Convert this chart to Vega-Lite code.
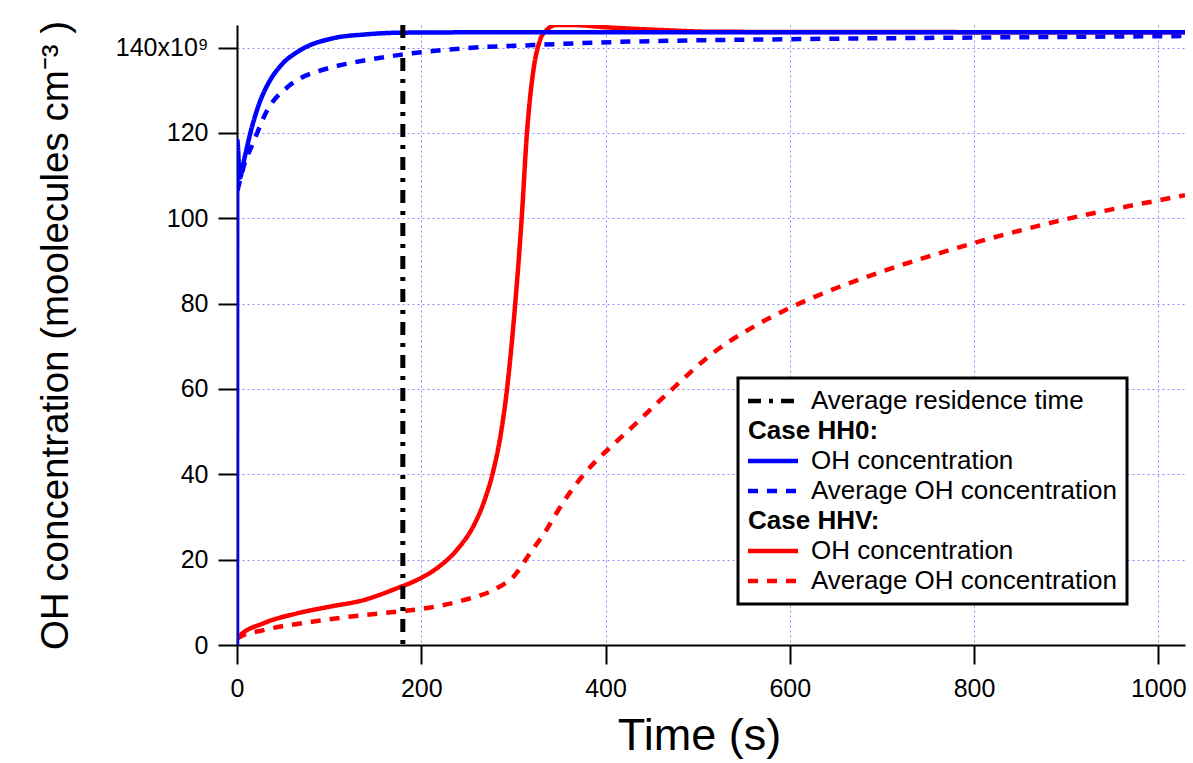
{
  "$schema": "https://vega.github.io/schema/vega-lite/v6.json",
  "width": 948,
  "height": 620,
  "autosize": {"type": "none"},
  "padding": {"left": 237, "top": 25, "right": 8, "bottom": 118},
  "background": "white",
  "config": {
    "view": {"stroke": null},
    "font": "Liberation Sans",
    "axis": {
      "domainColor": "black", "domainWidth": 2,
      "tickColor": "black", "tickWidth": 2, "tickSize": 19,
      "labelColor": "black", "labelFont": "Liberation Sans", "labelFontSize": 25,
      "titleColor": "black", "titleFont": "Liberation Sans", "titleFontWeight": "normal",
      "gridColor": "#8888ff", "gridDash": [2, 3], "gridWidth": 1, "gridOpacity": 1
    }
  },
  "datasets": {
    "curves": [
      {"s": "HH0 OH concentration", "t": 0, "v": 0},
      {"s": "HH0 OH concentration", "t": 0.3, "v": 118.3},
      {"s": "HH0 OH concentration", "t": 3, "v": 109.5},
      {"s": "HH0 OH concentration", "t": 8, "v": 114},
      {"s": "HH0 OH concentration", "t": 14.4, "v": 119.9},
      {"s": "HH0 OH concentration", "t": 25, "v": 127.4},
      {"s": "HH0 OH concentration", "t": 35, "v": 132.0},
      {"s": "HH0 OH concentration", "t": 48, "v": 135.9},
      {"s": "HH0 OH concentration", "t": 68.7, "v": 139.4},
      {"s": "HH0 OH concentration", "t": 104.5, "v": 142.2},
      {"s": "HH0 OH concentration", "t": 140, "v": 143.1},
      {"s": "HH0 OH concentration", "t": 177, "v": 143.5},
      {"s": "HH0 OH concentration", "t": 300, "v": 143.6},
      {"s": "HH0 OH concentration", "t": 600, "v": 143.6},
      {"s": "HH0 OH concentration", "t": 1029, "v": 143.6},

      {"s": "HH0 Average OH concentration", "t": 0.5, "v": 106.5},
      {"s": "HH0 Average OH concentration", "t": 4, "v": 109.5},
      {"s": "HH0 Average OH concentration", "t": 7.2, "v": 112.1},
      {"s": "HH0 Average OH concentration", "t": 18, "v": 117.9},
      {"s": "HH0 Average OH concentration", "t": 32.5, "v": 125.2},
      {"s": "HH0 Average OH concentration", "t": 54, "v": 130.6},
      {"s": "HH0 Average OH concentration", "t": 68.7, "v": 132.8},
      {"s": "HH0 Average OH concentration", "t": 87, "v": 134.4},
      {"s": "HH0 Average OH concentration", "t": 105, "v": 135.5},
      {"s": "HH0 Average OH concentration", "t": 141, "v": 137.1},
      {"s": "HH0 Average OH concentration", "t": 177, "v": 138.3},
      {"s": "HH0 Average OH concentration", "t": 250, "v": 139.9},
      {"s": "HH0 Average OH concentration", "t": 322, "v": 140.6},
      {"s": "HH0 Average OH concentration", "t": 394, "v": 141.2},
      {"s": "HH0 Average OH concentration", "t": 611, "v": 142.0},
      {"s": "HH0 Average OH concentration", "t": 828, "v": 142.4},
      {"s": "HH0 Average OH concentration", "t": 1029, "v": 142.7},

      {"s": "HHV OH concentration", "t": 0, "v": 1.5},
      {"s": "HHV OH concentration", "t": 3.6, "v": 2.3},
      {"s": "HHV OH concentration", "t": 28.9, "v": 5.1},
      {"s": "HHV OH concentration", "t": 65, "v": 7.4},
      {"s": "HHV OH concentration", "t": 101, "v": 9.0},
      {"s": "HHV OH concentration", "t": 137, "v": 10.5},
      {"s": "HHV OH concentration", "t": 173.6, "v": 13.3},
      {"s": "HHV OH concentration", "t": 195, "v": 15.2},
      {"s": "HHV OH concentration", "t": 217, "v": 18},
      {"s": "HHV OH concentration", "t": 238.7, "v": 22.3},
      {"s": "HHV OH concentration", "t": 256.7, "v": 27.9},
      {"s": "HHV OH concentration", "t": 268, "v": 33.5},
      {"s": "HHV OH concentration", "t": 278.4, "v": 41.0},
      {"s": "HHV OH concentration", "t": 286, "v": 49.0},
      {"s": "HHV OH concentration", "t": 293, "v": 59.8},
      {"s": "HHV OH concentration", "t": 302, "v": 80},
      {"s": "HHV OH concentration", "t": 309, "v": 100},
      {"s": "HHV OH concentration", "t": 314.7, "v": 119.9},
      {"s": "HHV OH concentration", "t": 321.8, "v": 134.8},
      {"s": "HHV OH concentration", "t": 329, "v": 141.8},
      {"s": "HHV OH concentration", "t": 336, "v": 144.1},
      {"s": "HHV OH concentration", "t": 347, "v": 145.3},
      {"s": "HHV OH concentration", "t": 365, "v": 145.3},
      {"s": "HHV OH concentration", "t": 398, "v": 144.8},
      {"s": "HHV OH concentration", "t": 463, "v": 144.1},
      {"s": "HHV OH concentration", "t": 520, "v": 143.7},
      {"s": "HHV OH concentration", "t": 1029, "v": 143.6},

      {"s": "HHV Average OH concentration", "t": 0, "v": 1.5},
      {"s": "HHV Average OH concentration", "t": 3.6, "v": 1.95},
      {"s": "HHV Average OH concentration", "t": 28.9, "v": 3.5},
      {"s": "HHV Average OH concentration", "t": 83, "v": 5.5},
      {"s": "HHV Average OH concentration", "t": 137, "v": 7.0},
      {"s": "HHV Average OH concentration", "t": 173.6, "v": 7.8},
      {"s": "HHV Average OH concentration", "t": 210, "v": 8.8},
      {"s": "HHV Average OH concentration", "t": 246, "v": 10.5},
      {"s": "HHV Average OH concentration", "t": 282, "v": 13.3},
      {"s": "HHV Average OH concentration", "t": 300, "v": 16},
      {"s": "HHV Average OH concentration", "t": 318, "v": 21.5},
      {"s": "HHV Average OH concentration", "t": 336, "v": 27},
      {"s": "HHV Average OH concentration", "t": 347, "v": 31},
      {"s": "HHV Average OH concentration", "t": 360, "v": 35.3},
      {"s": "HHV Average OH concentration", "t": 375, "v": 39.6},
      {"s": "HHV Average OH concentration", "t": 390, "v": 43.2},
      {"s": "HHV Average OH concentration", "t": 405, "v": 46.3},
      {"s": "HHV Average OH concentration", "t": 430, "v": 51.3},
      {"s": "HHV Average OH concentration", "t": 467, "v": 58.9},
      {"s": "HHV Average OH concentration", "t": 524, "v": 69.6},
      {"s": "HHV Average OH concentration", "t": 560, "v": 74.5},
      {"s": "HHV Average OH concentration", "t": 600, "v": 79.0},
      {"s": "HHV Average OH concentration", "t": 650, "v": 83.6},
      {"s": "HHV Average OH concentration", "t": 700, "v": 87.5},
      {"s": "HHV Average OH concentration", "t": 800, "v": 94.2},
      {"s": "HHV Average OH concentration", "t": 900, "v": 99.8},
      {"s": "HHV Average OH concentration", "t": 1000, "v": 104.2},
      {"s": "HHV Average OH concentration", "t": 1029, "v": 105.4}
    ],
    "residence": [
      {"s": "Average residence time", "t": 180}
    ]
  },
  "encoding": {
    "x": {
      "field": "t", "type": "quantitative",
      "scale": {"domain": [0, 1029], "nice": false, "zero": false},
      "axis": {
        "title": "Time (s)", "titleFontSize": 45, "titlePadding": 12, "titleX": 462,
        "values": [0, 200, 400, 600, 800, 1000], "format": "d", "labelPadding": 12,
        "grid": true, "labelFlush": false
      }
    },
    "color": {
      "field": "s", "type": "nominal",
      "scale": {
        "domain": ["Average residence time", "Case HH0:", "HH0 OH concentration", "HH0 Average OH concentration", "Case HHV:", "HHV OH concentration", "HHV Average OH concentration"],
        "range": ["black", "white", "#0000ff", "#0000ff", "white", "#ff0000", "#ff0000"]
      },
      "legend": {
        "title": null,
        "orient": "none", "legendX": 501, "legendY": 353,
        "symbolType": "M-2.6,0H7.4", "symbolSize": 100, "symbolStrokeWidth": 4.5,
        "labelOffset": 37, "rowPadding": 4, "padding": 10,
        "labelFont": "Liberation Sans", "labelFontSize": 26, "labelColor": "black", "labelLimit": 500,
        "strokeColor": "black", "fillColor": "white",
        "labelExpr": "indexof(datum.value, 'HH') == 0 ? slice(datum.value, 4) : datum.value",
        "encoding": {
          "legend": {"strokeWidth": {"value": 3}},
          "labels": {
            "fontWeight": {"condition": {"test": "indexof(datum.value, 'Case') == 0", "value": "bold"}, "value": "normal"},
            "dx": {"condition": {"test": "indexof(datum.value, 'Case') == 0", "value": -63}, "value": 0}
          },
          "symbols": {
            "opacity": {"condition": {"test": "indexof(datum.value, 'Case') == 0", "value": 0}, "value": 1}
          }
        }
      }
    },
    "strokeDash": {
      "field": "s", "type": "nominal",
      "scale": {
        "domain": ["Average residence time", "Case HH0:", "HH0 OH concentration", "HH0 Average OH concentration", "Case HHV:", "HHV OH concentration", "HHV Average OH concentration"],
        "range": [[13, 8, 4, 8], [1, 0], [1, 0], [10, 9], [1, 0], [1, 0], [10, 9]]
      }
    }
  },
  "layer": [
    {
      "data": {"name": "curves"},
      "transform": [{"filter": "datum.s == 'HHV Average OH concentration'"}],
      "mark": {"type": "line", "strokeWidth": 4.5, "interpolate": "monotone", "clip": true},
      "encoding": {
        "y": {
          "field": "v", "type": "quantitative",
          "scale": {"domain": [0, 145.3], "nice": false},
          "axis": {
            "title": "OH concentration (moolecules cm⁻³ )", "titleFontSize": 38.5, "titlePadding": 40,
            "values": [0, 20, 40, 60, 80, 100, 120, 140], "labelPadding": 10, "grid": true,
            "labelExpr": "datum.value == 140 ? '140x10⁹' : datum.label"
          }
        }
      }
    },
    {
      "data": {"name": "curves"},
      "transform": [{"filter": "datum.s == 'HH0 Average OH concentration'"}],
      "mark": {"type": "line", "strokeWidth": 4.5, "interpolate": "monotone", "clip": true},
      "encoding": {"y": {"field": "v", "type": "quantitative"}}
    },
    {
      "data": {"name": "curves"},
      "transform": [{"filter": "datum.s == 'HHV OH concentration'"}],
      "mark": {"type": "line", "strokeWidth": 4.5, "interpolate": "monotone", "clip": true},
      "encoding": {"y": {"field": "v", "type": "quantitative"}}
    },
    {
      "data": {"name": "curves"},
      "transform": [{"filter": "datum.s == 'HH0 OH concentration'"}],
      "mark": {"type": "line", "strokeWidth": 4.5, "interpolate": "monotone", "clip": true},
      "encoding": {"y": {"field": "v", "type": "quantitative"}}
    },
    {
      "data": {"name": "residence"},
      "mark": {"type": "rule", "strokeWidth": 5},
      "encoding": {}
    }
  ]
}
